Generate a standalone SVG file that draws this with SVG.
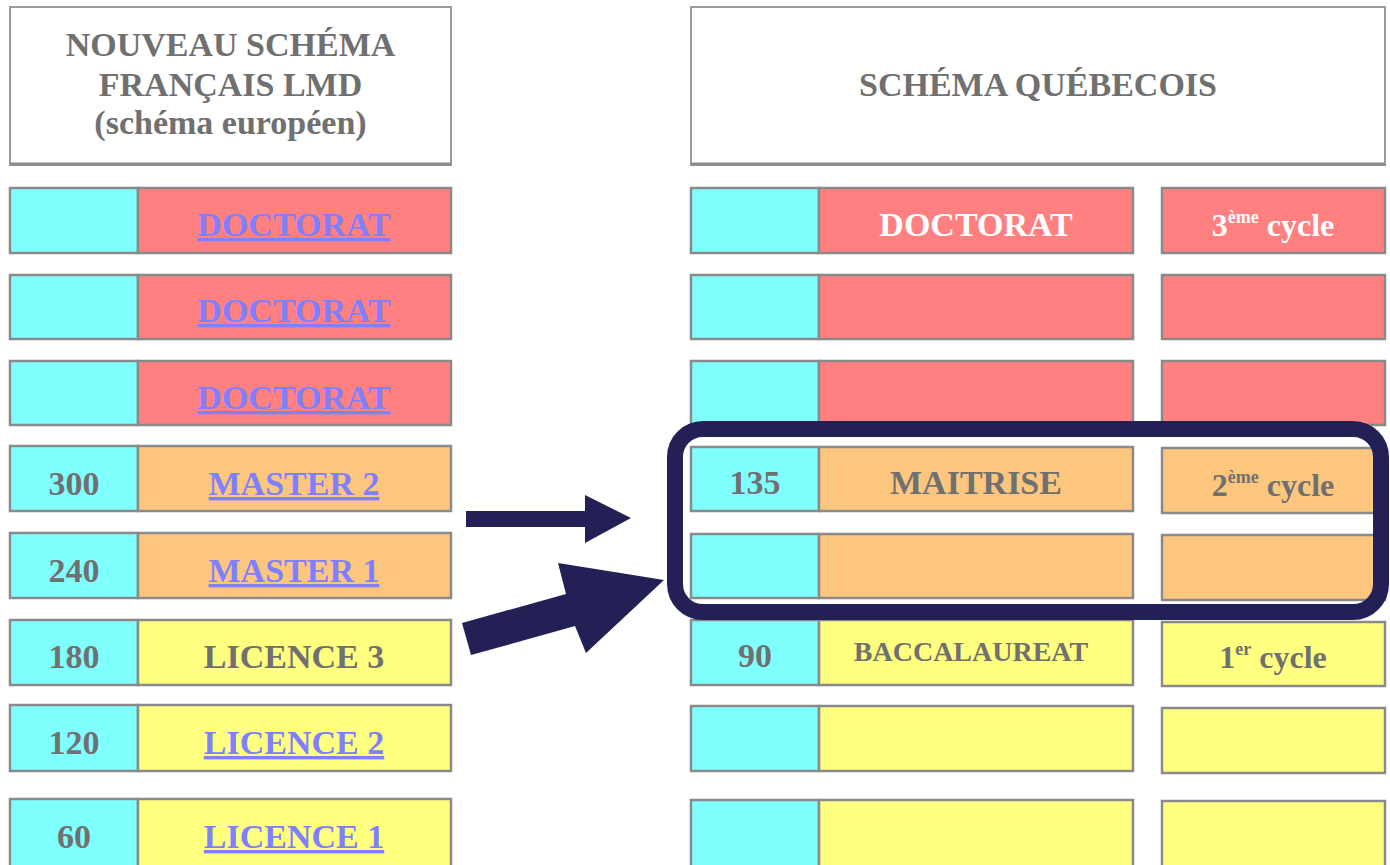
<svg xmlns="http://www.w3.org/2000/svg" width="1390" height="865" viewBox="0 0 1390 865">
<style>
  .hdr { fill: #ffffff; stroke: #9a9a9a; stroke-width: 2; }
  .cell { stroke: #8a8a8a; stroke-width: 2.5; }
  .cy { fill: #80ffff; }
  .rd { fill: #ff8080; }
  .or { fill: #fdc67e; }
  .ye { fill: #ffff80; }
  text { font-family: "Liberation Serif", "Times New Roman", serif; font-weight: bold; text-anchor: middle; }
  .t { font-size: 34px; fill: #707070; }
  .lnk { font-size: 34px; fill: #8080ff; text-decoration: underline; }
  .w { font-size: 34px; fill: #ffffff; }
  .sm { font-size: 28px; fill: #707070; }
  .cyc { font-size: 32px; }
  .sup { font-size: 18px; }
  .arrow { fill: #232056; }
</style>

<g id="header-left">
  <rect class="hdr" x="10" y="7" width="441" height="158"/>
  <line x1="10" y1="164" x2="451" y2="164" stroke="#8a8a8a" stroke-width="3"/>
  <text class="t" x="230.5" y="56">NOUVEAU SCHÉMA</text>
  <text class="t" x="230.5" y="96">FRANÇAIS LMD</text>
  <text class="t" x="230.5" y="134" font-size="33">(schéma européen)</text>
</g>

<g id="header-right">
  <rect class="hdr" x="691" y="7" width="694" height="158"/>
  <line x1="691" y1="164" x2="1385" y2="164" stroke="#8a8a8a" stroke-width="3"/>
  <text class="t" x="1038" y="96">SCHÉMA QUÉBECOIS</text>
</g>

<!-- Left column -->
<g id="l-doctorat-1">
  <rect class="cell cy" x="10" y="188" width="128" height="65"/>
  <rect class="cell rd" x="138" y="188" width="313" height="65"/>
  <text class="lnk" x="294" y="236">DOCTORAT</text>
</g>
<g id="l-doctorat-2">
  <rect class="cell cy" x="10" y="275" width="128" height="64"/>
  <rect class="cell rd" x="138" y="275" width="313" height="64"/>
  <text class="lnk" x="294" y="322">DOCTORAT</text>
</g>
<g id="l-doctorat-3">
  <rect class="cell cy" x="10" y="361" width="128" height="64"/>
  <rect class="cell rd" x="138" y="361" width="313" height="64"/>
  <text class="lnk" x="294" y="409">DOCTORAT</text>
</g>
<g id="l-master-2">
  <rect class="cell cy" x="10" y="446" width="128" height="65"/>
  <rect class="cell or" x="138" y="446" width="313" height="65"/>
  <text class="t" x="74" y="495">300</text>
  <text class="lnk" x="294" y="495">MASTER 2</text>
</g>
<g id="l-master-1">
  <rect class="cell cy" x="10" y="533" width="128" height="65"/>
  <rect class="cell or" x="138" y="533" width="313" height="65"/>
  <text class="t" x="74" y="582">240</text>
  <text class="lnk" x="294" y="582">MASTER 1</text>
</g>
<g id="l-licence-3">
  <rect class="cell cy" x="10" y="620" width="128" height="65"/>
  <rect class="cell ye" x="138" y="620" width="313" height="65"/>
  <text class="t" x="74" y="668">180</text>
  <text class="t" x="294" y="668">LICENCE 3</text>
</g>
<g id="l-licence-2">
  <rect class="cell cy" x="10" y="705" width="128" height="66"/>
  <rect class="cell ye" x="138" y="705" width="313" height="66"/>
  <text class="t" x="74" y="754">120</text>
  <text class="lnk" x="294" y="754">LICENCE 2</text>
</g>
<g id="l-licence-1">
  <rect class="cell cy" x="10" y="799" width="128" height="70"/>
  <rect class="cell ye" x="138" y="799" width="313" height="70"/>
  <text class="t" x="74" y="848">60</text>
  <text class="lnk" x="294" y="848">LICENCE 1</text>
</g>

<!-- Right column -->
<g id="r-doctorat-1">
  <rect class="cell cy" x="691" y="188" width="128" height="65"/>
  <rect class="cell rd" x="819" y="188" width="314" height="65"/>
  <text class="w" x="976" y="236">DOCTORAT</text>
  <rect class="cell rd" x="1162" y="188" width="223" height="65"/>
  <text class="cyc" x="1273" y="236" fill="#ffffff">3<tspan class="sup" dy="-13">ème</tspan><tspan dy="13"> cycle</tspan></text>
</g>
<g id="r-doctorat-2">
  <rect class="cell cy" x="691" y="275" width="128" height="64"/>
  <rect class="cell rd" x="819" y="275" width="314" height="64"/>
  <rect class="cell rd" x="1162" y="275" width="223" height="64"/>
</g>
<g id="r-doctorat-3">
  <rect class="cell cy" x="691" y="361" width="128" height="64"/>
  <rect class="cell rd" x="819" y="361" width="314" height="64"/>
  <rect class="cell rd" x="1162" y="361" width="223" height="64"/>
</g>
<g id="r-maitrise">
  <rect class="cell cy" x="691" y="447" width="128" height="64"/>
  <rect class="cell or" x="819" y="447" width="314" height="64"/>
  <text class="t" x="755" y="494">135</text>
  <text class="t" x="976" y="494">MAITRISE</text>
  <rect class="cell or" x="1162" y="448" width="223" height="65"/>
  <text class="cyc" x="1273" y="496" fill="#707070">2<tspan class="sup" dy="-13">ème</tspan><tspan dy="13"> cycle</tspan></text>
</g>
<g id="r-maitrise-2">
  <rect class="cell cy" x="691" y="534" width="128" height="64"/>
  <rect class="cell or" x="819" y="534" width="314" height="64"/>
  <rect class="cell or" x="1162" y="535" width="223" height="65"/>
</g>
<g id="r-baccalaureat">
  <rect class="cell cy" x="691" y="620" width="128" height="65"/>
  <rect class="cell ye" x="819" y="620" width="314" height="65"/>
  <text class="t" x="755" y="667">90</text>
  <text class="sm" x="971" y="661">BACCALAUREAT</text>
  <rect class="cell ye" x="1162" y="622" width="223" height="64"/>
  <text class="cyc" x="1273" y="668" fill="#707070">1<tspan class="sup" dy="-13">er</tspan><tspan dy="13"> cycle</tspan></text>
</g>
<g id="r-bac-2">
  <rect class="cell cy" x="691" y="706" width="128" height="65"/>
  <rect class="cell ye" x="819" y="706" width="314" height="65"/>
  <rect class="cell ye" x="1162" y="708" width="223" height="65"/>
</g>
<g id="r-bac-3">
  <rect class="cell cy" x="691" y="800" width="128" height="70"/>
  <rect class="cell ye" x="819" y="800" width="314" height="70"/>
  <rect class="cell ye" x="1162" y="801" width="223" height="70"/>
</g>

<g id="highlight">
  <rect x="675" y="429" width="706" height="183" rx="28" ry="28" fill="none" stroke="#232056" stroke-width="16"/>
</g>

<g id="connectors">
  <polygon class="arrow" points="466,511 585,511 585,495 631,518 585,543 585,527 466,527"/>
  <polygon class="arrow" points="462,623 566,594 558,563 664,580 586,653 575,626 471,655"/>
</g>
</svg>
